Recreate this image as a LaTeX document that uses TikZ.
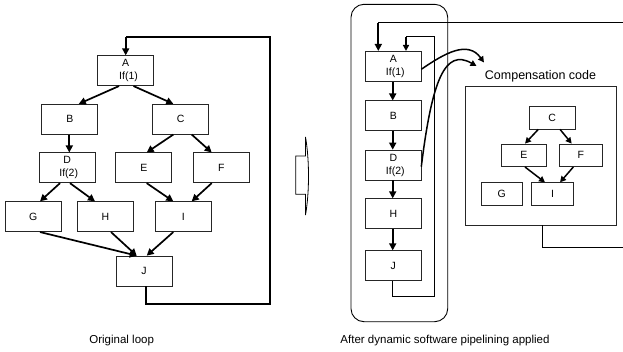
\documentclass[tikz,border=0pt]{standalone}
\usepackage{fontspec}
\setmainfont{Liberation Sans}
\usetikzlibrary{arrows.meta,calc}
\begin{document}
\begin{tikzpicture}[x=1pt,y=-1pt,
  blk/.style={draw=black!85,line width=0.7pt,minimum width=56pt,minimum height=30pt,inner sep=0pt,font=\fontsize{10.5}{11.5}\selectfont,align=center},
  sblk/.style={draw=black!85,line width=0.7pt,inner sep=0pt,font=\fontsize{10.5}{11.5}\selectfont},
  arr/.style={line width=1.7pt,-{Triangle[length=7pt,width=7pt]}},
  sarr/.style={line width=1.5pt,-{Triangle[length=6pt,width=6pt]}},
  loopl/.style={line width=1.3pt},
  thinl/.style={line width=0.8pt},
  captxt/.style={font=\fontsize{11.5}{13}\selectfont}]
\useasboundingbox (0,0) rectangle (623,351);
% ---- left: original loop
\node[blk] (A) at (125.5,70.7) {A\\[1.5pt]\hspace*{6pt}If(1)};
\node[blk] (B) at (69.8,119.2) {B};
\node[blk] (C) at (180.7,119.2) {C};
\node[blk] (D) at (67.2,167.8) {D\\[1.5pt]\hspace*{3pt}If(2)};
\node[blk] (E) at (143.8,167.8) {E};
\node[blk] (F) at (221.3,167.8) {F};
\node[blk] (G) at (33.3,216.7) {G};
\node[blk] (H) at (105.5,216.7) {H};
\node[blk] (I) at (183.3,216.7) {I};
\node[blk] (J) at (144,271) {J};
\draw[arr] ($(A.south)+(-6.5,0)$) -- ($(B.north)+(9,0)$);
\draw[arr] ($(A.south)+(8,0)$) -- ($(C.north)+(-7.4,0)$);
\draw[arr] ($(B.south)+(-0.5,0)$) -- ($(D.north)+(2.1,0)$);
\draw[arr] ($(C.south)+(-7.4,0)$) -- ($(E.north)+(2.9,0)$);
\draw[arr] ($(C.south)+(11,0)$) -- ($(F.north)+(-9.6,0)$);
\draw[arr] ($(D.south)+(-7.2,0)$) -- ($(G.north)+(6.7,0)$);
\draw[arr] ($(D.south)+(2.8,0)$) -- ($(H.north)+(-10.5,0)$);
\draw[arr] ($(E.south)+(2.9,0)$) -- ($(I.north)+(-10,0)$);
\draw[arr] ($(F.south)+(-9.6,0)$) -- ($(I.north)+(8.4,0)$);
\draw[arr] ($(G.south)+(6.7,0)$) -- ($(J.north)+(-7.3,0)$);
\draw[arr] ($(H.south)+(5.5,0)$) -- ($(J.north)+(-7.3,0)$);
\draw[arr] ($(I.south)+(-10,0)$) -- ($(J.north)+(2.7,0)$);
\coordinate (l1) at (146,304);
\coordinate (l2) at (270,304);
\coordinate (l3) at (270,37);
\coordinate (l4) at (125.7,37);
\draw[loopl] ($(J.south)+(2,0)$) -- (l1) -- (l2) -- (l3) -- (l4);
\draw[arr] (l4) -- ($(A.north)+(0.2,0)$);
\node[captxt] (cap1) at (121.7,341) {Original loop};
% ---- block arrow
\draw[thinl,fill=white] (295.7,156) -- (305.5,156) -- (305.5,137) .. controls (309.5,160) and (309.5,192) .. (305.5,215) -- (305.5,194.3) -- (295.7,194.3) -- cycle;
% ---- right
\draw[line width=0.9pt,rounded corners=13pt] (351,4.3) rectangle (447.7,321.7);
\node[blk,minimum width=55.3pt] (A2) at (393.3,66.3) {A\\[1.5pt]\hspace*{4pt}If(1)};
\node[blk,minimum width=55.3pt] (B2) at (393.3,115.8) {B};
\node[blk,minimum width=55.3pt] (D2) at (393.3,165) {D\\[1.5pt]\hspace*{4pt}If(2)};
\node[blk,minimum width=55.3pt] (H2) at (393.3,213.7) {H};
\node[blk,minimum width=55.3pt] (J2) at (393.3,265.7) {J};
\draw[arr] ($(A2.south)+(-0.6,0)$) -- ($(B2.north)+(-0.6,0)$);
\draw[arr] ($(B2.south)+(-0.6,0)$) -- ($(D2.north)+(-0.6,0)$);
\draw[arr] ($(D2.south)+(-0.6,0)$) -- ($(H2.north)+(-0.6,0)$);
\draw[arr] ($(H2.south)+(-0.6,0)$) -- ($(J2.north)+(-0.6,0)$);
% inner loop
\coordinate (r1) at (392.5,296.7);
\coordinate (r2) at (434.3,296.7);
\coordinate (r3) at (434.3,36.7);
\coordinate (r4) at (406,36.7);
\draw[thinl] ($(J2.south)+(-0.8,0)$) -- (r1) -- (r2) -- (r3) -- (r4);
\draw[sarr] (r4) -- ($(A2.north)+(12.7,0)$);
% outer loop from compensation code
\coordinate (t1) at (623,22.7);
\coordinate (t2) at (378.3,22.7);
\draw[loopl] (t1) -- (t2);
\draw[arr] (t2) -- ($(A2.north)+(-15,0)$);
% compensation code
\node[draw=black!85,line width=0.8pt,minimum width=151pt,minimum height=139pt,inner sep=0pt] (comp) at (540.5,155.5) {};
\node[font=\fontsize{12.5}{14}\selectfont] (comptitle) at (540.5,76) {Compensation code};
\node[sblk,minimum width=45.7pt,minimum height=23pt] (C2) at (552.2,117.5) {C};
\node[sblk,minimum width=45.7pt,minimum height=22.7pt] (E2) at (523.8,155.3) {E};
\node[sblk,minimum width=43pt,minimum height=22.7pt] (F2) at (580.8,155.3) {F};
\node[sblk,minimum width=41.3pt,minimum height=23pt] (G2) at (501.7,194.2) {G};
\node[sblk,minimum width=41.6pt,minimum height=23pt] (I2) at (552.5,194.2) {I};
\draw[sarr] ($(C2.south)+(-13.9,0)$) -- ($(E2.north)+(1.2,0)$);
\draw[sarr] ($(C2.south)+(7.8,0)$) -- ($(F2.north)+(-9.1,0)$);
\draw[sarr] ($(E2.south)+(1.2,0)$) -- ($(I2.north)+(-7.5,0)$);
\draw[sarr] ($(F2.south)+(-7.5,0)$) -- ($(I2.north)+(7.5,0)$);
\coordinate (b1) at (542.3,247.7);
\coordinate (b2) at (623,247.7);
\draw[loopl] ($(comp.south)+(1.8,0)$) -- (b1) -- (b2);
% curved arrows
\coordinate (ct1) at (484,62.5);
\coordinate (ct2) at (476.5,66);
\draw[sarr] ($(A2.east)+(0,3)$) .. controls (445,53) and (468,40) .. (ct1);
\draw[sarr] ($(D2.east)+(0,1.7)$) .. controls (432,80) and (445,48) .. (ct2);
\node[captxt] (cap2) at (445,341) {After dynamic software pipelining applied};
\end{tikzpicture}
\end{document}
